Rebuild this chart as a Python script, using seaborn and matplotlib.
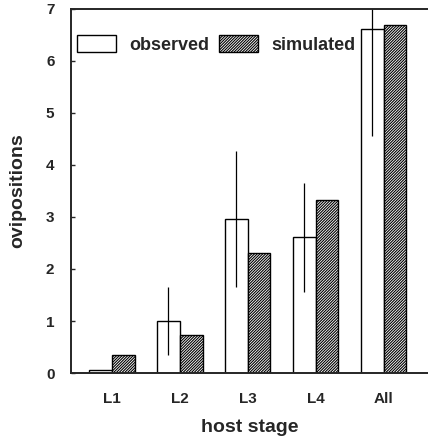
import numpy as np
import pandas as pd
import matplotlib
matplotlib.use('Agg')
import matplotlib.pyplot as plt
import seaborn as sns
from matplotlib.patches import Patch

# values
stages = ['L1', 'L2', 'L3', 'L4', 'All']
observed = [0.05, 1.0, 2.96, 2.61, 6.62]
simulated = [0.35, 0.74, 2.30, 3.32, 6.68]
observed_err = [0.0, 0.66, 1.31, 1.05, 2.06]

sns.set_style('ticks')
plt.rcParams['font.family'] = ['Liberation Sans', 'DejaVu Sans']
plt.rcParams['font.weight'] = 'bold'
plt.rcParams['hatch.linewidth'] = 0.8
dense_hatch = '/' * 12

df = pd.DataFrame({'stage': stages * 2,
                   'ovipositions': observed + simulated,
                   'kind': ['observed'] * 5 + ['simulated'] * 5})

fig = plt.figure(figsize=(4.28, 4.42), dpi=100)
ax = fig.add_axes([0.166, 0.156, 0.834, 0.824])

sns.barplot(df, x='stage', y='ovipositions', hue='kind', order=stages,
            hue_order=['observed', 'simulated'], palette=['white', 'white'],
            edgecolor='black', linewidth=1.0, width=0.667, gap=0,
            errorbar=None, legend=False, ax=ax)

bars = ax.patches
obs_bars = bars[:5]
sim_bars = bars[5:10]
for b in sim_bars:
    b.set_hatch(dense_hatch)

# error bars on the observed bars, no caps
xs = [b.get_x() + b.get_width() / 2 for b in obs_bars]
ax.errorbar(xs, observed, yerr=observed_err, fmt='none', ecolor='black',
            elinewidth=0.9, capsize=0)

ax.set_ylim(0, 7)
ax.set_xlim(-0.6, 4.65)
ax.set_yticks(range(8), labels=[str(i) for i in range(8)], fontweight='bold', fontsize=11)
ax.set_xticks(range(5), labels=stages, fontweight='bold', fontsize=11)
ax.tick_params(axis='y', direction='in', length=3, width=1, pad=12)
ax.tick_params(axis='x', length=0, pad=14)

ax.spines['right'].set_visible(False)
for s in ['left', 'bottom', 'top']:
    ax.spines[s].set_linewidth(1.4)

ax.set_xlabel('host stage', fontsize=14, fontweight='bold', labelpad=9)
ax.set_ylabel('ovipositions', fontsize=14, fontweight='bold', labelpad=14)

handles = [Patch(facecolor='white', edgecolor='black', linewidth=1.0),
           Patch(facecolor='white', edgecolor='black', hatch=dense_hatch, linewidth=1.0)]
ax.legend(handles, ['observed', 'simulated'], ncol=2, frameon=False,
          loc='upper left', bbox_to_anchor=(0.017, 0.928),
          handlelength=2.15, handleheight=1.1, columnspacing=0.55,
          handletextpad=0.75, borderaxespad=0, borderpad=0,
          prop={'weight': 'bold', 'size': 13})

fig.savefig('out.png', dpi=100)
